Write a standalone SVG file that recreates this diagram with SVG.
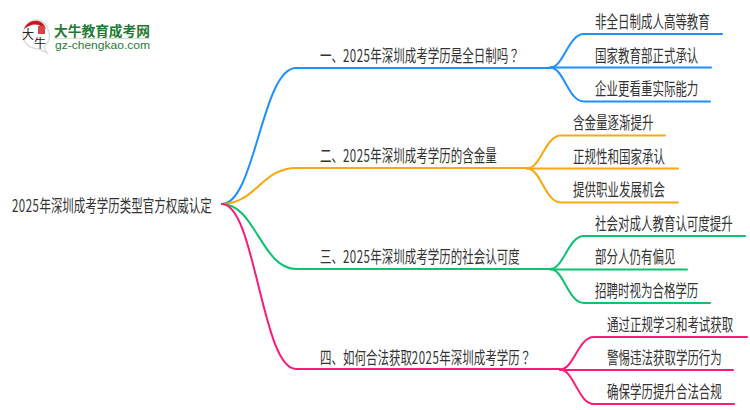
<svg xmlns="http://www.w3.org/2000/svg" width="750" height="410" viewBox="0 0 750 410">
<style>
text{font-family:"Noto Sans CJK SC","Liberation Sans",sans-serif;font-size:17px;fill:#333}
.q{font-family:"Noto Sans CJK TC","Liberation Sans",sans-serif}
.d{letter-spacing:.7px}
.c{fill:none;stroke-width:2;stroke-linecap:round}
.b{stroke:#1e90ff}.o{stroke:#f9a80f}.g{stroke:#0fc171}.p{stroke:#fb1a78}
</style>
<rect width="750" height="410" fill="#fff"/>
<g id="connectors">
<path class="c b" d="M222 204C255 204 262 68 296 68H550"/>
<path class="c o" d="M222 204C255 204 262 168 296 168H527"/>
<path class="c g" d="M222 204C255 204 262 269 296 269H550"/>
<path class="c p" d="M222 204C255 204 262 369 296 369H560"/>
<path class="c b" d="M550 67.500C564 67.500 568 34 584 34H722"/>
<path class="c b" d="M550 67.500H711"/>
<path class="c b" d="M550 67.500C564 67.500 568 101.500 584 101.500H710"/>
<path class="c o" d="M527 168.500C541 168.500 545 135.500 561 135.500H665"/>
<path class="c o" d="M527 168.500H678"/>
<path class="c o" d="M527 168.500C541 168.500 545 202.500 561 202.500H678"/>
<path class="c g" d="M550 269C564 269 568 236 584 236H745"/>
<path class="c g" d="M550 269.500H687"/>
<path class="c g" d="M550 269C564 269 568 303 584 303H710"/>
<path class="c p" d="M560 369.500C574 369.500 578 337 594 337H747"/>
<path class="c p" d="M560 370H733"/>
<path class="c p" d="M560 369.500C574 369.500 578 404 594 404H734"/>
</g>
<g id="logo">
<path d="M37 20C28 20 23 28 23 35C23 44 31 49 39 49L47 53L44 47C49 43 50 37 49 32C47 25 44 20 37 20Z" fill="#fff" stroke="#ddd" stroke-width="1.500"/>
<path d="M24 29C27 20 42 16 46 29C38 23 32 23 24 29Z" fill="#c8161d"/>
<rect x="38" y="26" width="7" height="8" fill="#d8434a"/>
<text x="22" y="39" style="font-size:12px;fill:#222">大</text>
<text x="34" y="48" style="font-size:12px;fill:#222">牛</text>
<text x="54" y="36" textLength="96" lengthAdjust="spacingAndGlyphs" style="font-size:13.500px;font-weight:700;fill:#1f7a35">大牛教育成考网</text>
<rect x="54" y="38" width="96" height="1" fill="#cfe3d4"/>
<text x="55" y="49" textLength="95" lengthAdjust="spacingAndGlyphs" style="font-family:'Liberation Sans',sans-serif;font-size:11px;fill:#1f7a35">gz-chengkao.com</text>
</g>
<g id="root"><text transform="translate(12 212) scale(.676 1)"><tspan class="d">2025</tspan>年深圳成考学历类型官方权威认定</text></g>
<g id="n1"><text transform="translate(320 62) scale(.676 1)">一、<tspan class="d">2025</tspan>年深圳成考学历是全日制吗<tspan class="q">？</tspan></text></g>
<g id="n2"><text transform="translate(320 162) scale(.676 1)">二、<tspan class="d">2025</tspan>年深圳成考学历的含金量</text></g>
<g id="n3"><text transform="translate(320 263) scale(.676 1)">三、<tspan class="d">2025</tspan>年深圳成考学历的社会认可度</text></g>
<g id="n4"><text transform="translate(320 364) scale(.676 1)">四、如何合法获取<tspan class="d">2025</tspan>年深圳成考学历<tspan class="q">？</tspan></text></g>
<g id="n1a"><text transform="translate(595 28) scale(.676 1)">非全日制成人高等教育</text></g>
<g id="n1b"><text transform="translate(595 62) scale(.676 1)">国家教育部正式承认</text></g>
<g id="n1c"><text transform="translate(595 95) scale(.676 1)">企业更看重实际能力</text></g>
<g id="n2a"><text transform="translate(573 129) scale(.676 1)">含金量逐渐提升</text></g>
<g id="n2b"><text transform="translate(573 163) scale(.676 1)">正规性和国家承认</text></g>
<g id="n2c"><text transform="translate(573 196) scale(.676 1)">提供职业发展机会</text></g>
<g id="n3a"><text transform="translate(595 230) scale(.676 1)">社会对成人教育认可度提升</text></g>
<g id="n3b"><text transform="translate(595 263) scale(.676 1)">部分人仍有偏见</text></g>
<g id="n3c"><text transform="translate(595 297) scale(.676 1)">招聘时视为合格学历</text></g>
<g id="n4a"><text transform="translate(607 331) scale(.676 1)">通过正规学习和考试获取</text></g>
<g id="n4b"><text transform="translate(607 364) scale(.676 1)">警惕违法获取学历行为</text></g>
<g id="n4c"><text transform="translate(607 398) scale(.676 1)">确保学历提升合法合规</text></g>
</svg>
